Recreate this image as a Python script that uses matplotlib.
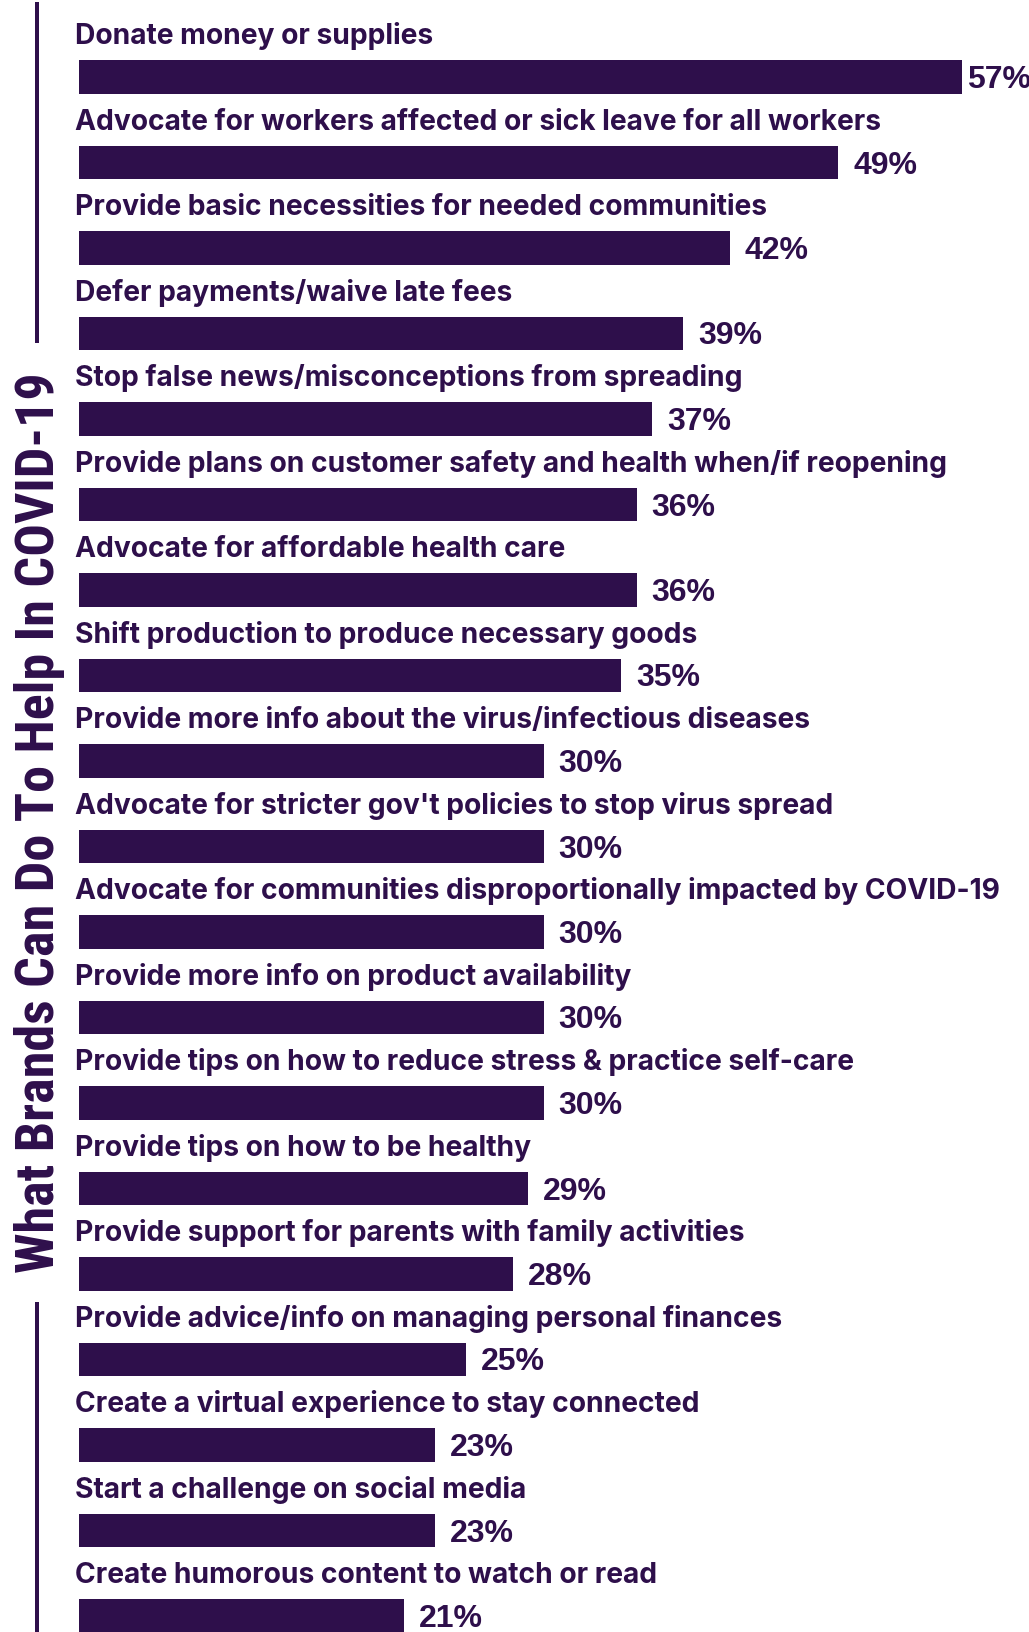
import matplotlib
matplotlib.use("Agg")
import matplotlib.pyplot as plt
from matplotlib.lines import Line2D

categories = [
    "Donate money or supplies",
    "Advocate for workers affected or sick leave for all workers",
    "Provide basic necessities for needed communities",
    "Defer payments/waive late fees",
    "Stop false news/misconceptions from spreading",
    "Provide plans on customer safety and health when/if reopening",
    "Advocate for affordable health care",
    "Shift production to produce necessary goods",
    "Provide more info about the virus/infectious diseases",
    "Advocate for stricter gov't policies to stop virus spread",
    "Advocate for communities disproportionally impacted by COVID-19",
    "Provide more info on product availability",
    "Provide tips on how to reduce stress & practice self-care",
    "Provide tips on how to be healthy",
    "Provide support for parents with family activities",
    "Provide advice/info on managing personal finances",
    "Create a virtual experience to stay connected",
    "Start a challenge on social media",
    "Create humorous content to watch or read",
]
values = [57, 49, 42, 39, 37, 36, 36, 35, 30, 30, 30, 30, 30, 29, 28, 25, 23, 23, 21]
title = "What Brands Can Do To Help In COVID-19"

purple = "#2e0f4b"
W, H = 1029, 1632
px = 0.72  # points per pixel at dpi 100

fig = plt.figure(figsize=(W / 100, H / 100), dpi=100)
ax = fig.add_axes([79 / W, 0, (W - 79) / W, 1])

step = 85.5
bar_h = 33.5 / step
n = len(values)
y = list(range(n))
ax.barh(y, values, height=bar_h, color=purple, edgecolor="none")
ax.set_xlim(0, (W - 79) / 15.49)
ax.set_ylim(n - 1 + (H - 77 - (n - 1) * step) / step, -77 / step)
ax.axis("off")

for i, (c, v) in enumerate(zip(categories, values)):
    ax.annotate(c, xy=(0, i - bar_h / 2), xytext=(-4 * px, 16 * px),
                textcoords="offset points", ha="left", va="baseline",
                fontsize=20.3, fontweight="bold", color=purple,
                family=["Inter", "DejaVu Sans"])
    gap = 5 if v == max(values) else 15
    ax.annotate(f"{v}%", xy=(v, i), xytext=(gap * px, -3 * px),
                textcoords="offset points", ha="left", va="center",
                fontsize=23, fontweight="bold", color=purple,
                family="Liberation Sans", annotation_clip=False)

fig.text(40 / W, 1 - 823 / H, title, rotation=90, ha="center", va="center",
         fontsize=39, fontweight="bold", color=purple,
         family=["Roboto Condensed", "Liberation Sans"])

fig.add_artist(Line2D([37 / W, 37 / W], [1 - 4 / H, 1 - 341 / H],
                      color=purple, lw=4 * px, transform=fig.transFigure))
fig.add_artist(Line2D([37 / W, 37 / W], [1 - 1304 / H, 0],
                      color=purple, lw=4 * px, transform=fig.transFigure))

fig.savefig("out.png", dpi=100, facecolor="white")
